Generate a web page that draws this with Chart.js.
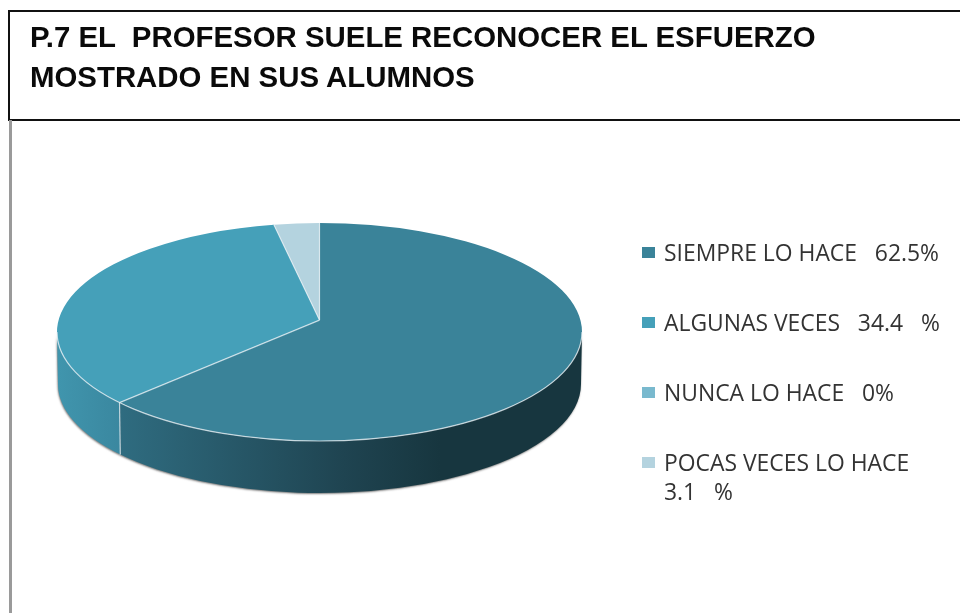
<!DOCTYPE html>
<html>
<head>
<meta charset="utf-8">
<script src="https://cdn.jsdelivr.net/npm/chart.js@4"></script>
<style>
html,body{margin:0;padding:0;background:#fff;width:960px;height:613px;overflow:hidden}
#c{position:absolute;left:0;top:0}
#box{position:absolute;left:8px;top:10px;width:960px;height:107px;border:2px solid #111;box-sizing:content-box}
#rule{position:absolute;left:9px;top:120px;width:3px;height:493px;background:#9a9a9a}
#title{position:absolute;left:30px;top:17px;font:bold 29.4px/40px "Liberation Sans",Arial,sans-serif;color:#0a0a0a;white-space:pre}
.sw{position:absolute;left:642px;width:13px;height:11px}
.lb{position:absolute;left:664px;font:22.9px/29px "Open Sans",sans-serif;color:#333;white-space:pre}
</style>
</head>
<body>
<canvas id="c" width="960" height="613"></canvas>
<div id="box"></div>
<div id="rule"></div>
<div id="title"></div>
<div id="legend"></div>
<script>
const titleLines = ["P.7 EL  PROFESOR SUELE RECONOCER EL ESFUERZO", "MOSTRADO EN SUS ALUMNOS"];
const categories = ["SIEMPRE LO HACE", "ALGUNAS VECES", "NUNCA LO HACE", "POCAS VECES LO HACE"];
const legendLabels = ["SIEMPRE LO HACE   62.5%", "ALGUNAS VECES   34.4   %", "NUNCA LO HACE   0%", "POCAS VECES LO HACE\n3.1   %"];
const values = [62.5, 34.4, 0, 3.1];
const sliceColors = ["#3A8399", "#45A0B9", "#79B9CE", "#B4D3DF"];
const legendTops = [247, 317, 387, 457];

document.getElementById('title').textContent = titleLines.join("\n");
const lg = document.getElementById('legend');
legendLabels.forEach((t, i) => {
  const s = document.createElement('div'); s.className = 'sw';
  s.style.top = legendTops[i] + 'px'; s.style.background = sliceColors[i]; lg.appendChild(s);
  const l = document.createElement('div'); l.className = 'lb';
  l.style.top = (legendTops[i] - 9) + 'px'; l.textContent = t; lg.appendChild(l);
});

// Perspective view of the pie: the library's slice angles are projected on to a tilted disc.
const CX = 319.5, CY = 332, RX = 262.5, RY = 109, DEPTH = 52, K = 0.896;
const project = a => {           // a: library angle, canvas convention, 12 o'clock = -PI/2
  const t = a + Math.PI / 2;
  const turns = Math.floor((t + Math.PI) / (2 * Math.PI));
  const rel = t - turns * 2 * Math.PI;
  const phi = Math.abs(Math.abs(rel) - Math.PI) < 1e-9 ? rel : 2 * Math.atan(K * Math.tan(rel / 2));
  return phi + turns * 2 * Math.PI - Math.PI / 2;
};
const APEX_Y = CY - RY * (1 - K * K) / (1 + K * K);

const pie3d = {
  id: 'pie3d',
  beforeDatasetDraw(chart) {
    const ctx = chart.ctx;
    const arcs = chart.getDatasetMeta(0).data;
    const spans = arcs.map(e => ({ a0: project(e.startAngle), a1: project(e.endAngle) }));

    // side wall
    const wall = (lo, hi, fill) => {
      ctx.beginPath();
      ctx.ellipse(CX, CY, RX, RY, 0, lo, hi, false);
      ctx.ellipse(CX, CY + DEPTH, RX - 1, RY, 0, hi, lo, true);
      ctx.closePath();
      ctx.fillStyle = fill;
      ctx.fill();
    };
    const gDark = ctx.createLinearGradient(120, 0, 440, 0);
    gDark.addColorStop(0, '#2F6C80');
    gDark.addColorStop(0.7, '#1F4451');
    gDark.addColorStop(1, '#17363F');
    const gMid = ctx.createLinearGradient(58, 0, 122, 0);
    gMid.addColorStop(0, '#4095AD');
    gMid.addColorStop(1, '#3A879F');
    const walls = [gDark, gMid, sliceColors[2], sliceColors[3]];

    ctx.save();
    ctx.shadowColor = 'rgba(90,90,90,0.8)';
    ctx.shadowBlur = 2;
    ctx.shadowOffsetX = -0.5;
    ctx.shadowOffsetY = 1;
    spans.forEach((s, i) => {
      const w = s.a1 - s.a0;
      if (w <= 0) return;
      // visible front part: canvas angles 0..PI, modulo a full turn
      [0, 2 * Math.PI, -2 * Math.PI].forEach(off => {
        const lo = Math.max(s.a0, off), hi = Math.min(s.a1, off + Math.PI);
        if (hi > lo) wall(lo, hi, walls[i]);
      });
    });
    ctx.restore();

    // top face
    spans.forEach((s, i) => {
      if (s.a1 - s.a0 <= 0) return;
      ctx.beginPath();
      ctx.moveTo(CX, APEX_Y);
      ctx.ellipse(CX, CY, RX, RY, 0, s.a0, s.a1, false);
      ctx.closePath();
      ctx.fillStyle = sliceColors[i];
      ctx.fill();
    });

    // separators and rim highlight
    ctx.lineWidth = 1.2;
    ctx.strokeStyle = 'rgba(235,242,245,0.75)';
    spans.forEach(s => {
      if (s.a1 - s.a0 <= 0) return;
      ctx.beginPath();
      ctx.moveTo(CX, APEX_Y);
      ctx.lineTo(CX + RX * Math.cos(s.a0), CY + RY * Math.sin(s.a0));
      ctx.stroke();
      const c = Math.cos(s.a0), sn = Math.sin(s.a0);
      if (sn > 0) {
        ctx.beginPath();
        ctx.moveTo(CX + RX * c, CY + RY * sn);
        ctx.lineTo(CX + (RX - 1) * c, CY + DEPTH + RY * sn);
        ctx.stroke();
      }
    });
    ctx.beginPath();
    ctx.ellipse(CX, CY, RX, RY, 0, 0, Math.PI, false);
    ctx.stroke();
    return false;
  }
};

new Chart(document.getElementById('c'), {
  type: 'pie',
  data: {
    labels: categories,
    datasets: [{ data: values, backgroundColor: sliceColors, borderWidth: 0 }]
  },
  options: {
    responsive: false,
    animation: false,
    events: [],
    plugins: { legend: { display: false }, tooltip: { enabled: false } }
  },
  plugins: [pie3d]
});
</script>
</body>
</html>
